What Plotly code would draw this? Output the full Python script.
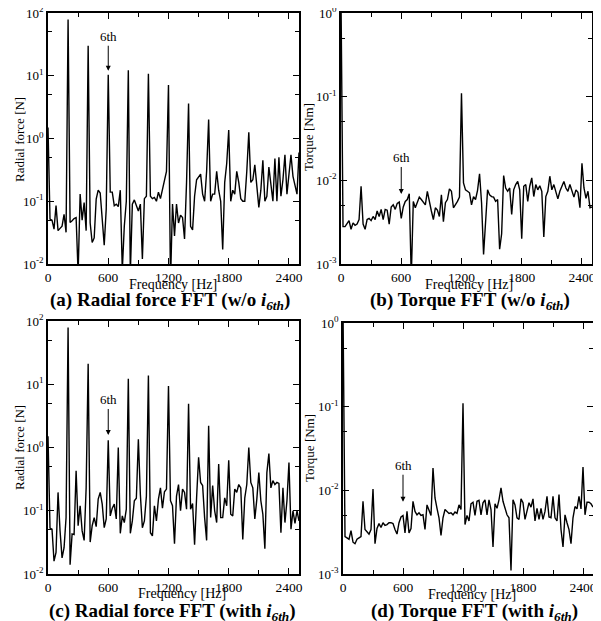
import plotly.graph_objects as go

# ---------------- data ----------------
freq = list(range(0, 2501, 20))  # Hz

radial_wo = [
    1.5, 0.052, 0.05, 0.036, 0.085, 0.034, 0.037, 0.04, 0.062, 0.032,
    79, 0.046, 0.049, 0.053, 0.055, 0.007, 0.13, 0.05, 0.095, 0.034,
    30, 0.045, 0.022, 0.026, 0.108, 0.15, 0.135, 0.058, 0.02, 0.075,
    10.4, 0.14, 0.14, 0.085, 0.09, 0.082, 0.15, 0.008, 0.04, 0.1,
    12.2, 0.007, 0.09, 0.105, 0.085, 0.07, 0.09, 0.012, 0.11, 0.12,
    10.8, 0.12, 0.11, 0.115, 0.1, 0.14, 0.11, 0.15, 0.2, 0.3,
    7.1, 0.005, 0.09, 0.028, 0.09, 0.045, 0.06, 0.055, 0.025, 0.2,
    3.6, 0.04, 0.035, 0.12, 0.22, 0.25, 0.27, 0.13, 0.1, 0.3,
    2.0, 0.1, 0.13, 0.13, 0.3, 0.15, 0.1, 0.017, 0.2, 0.4,
    1.37, 0.1, 0.15, 0.13, 0.3, 0.2, 0.11, 0.1, 0.1, 0.3,
    1.26, 0.2, 0.22, 0.38, 0.15, 0.08, 0.15, 0.45, 0.1, 0.12,
    0.35, 0.2, 0.1, 0.48, 0.1, 0.5, 0.12, 0.22, 0.55, 0.13,
    0.3, 0.55, 0.25, 0.18, 0.13, 0.6,
]

torque_wo = [
    1.5, 0.0028, 0.0028, 0.003, 0.0033, 0.0026, 0.0031, 0.0029, 0.003, 0.0034,
    0.0085, 0.003, 0.0026, 0.0034, 0.0035, 0.0033, 0.0037, 0.0034, 0.0043, 0.0037,
    0.0045, 0.0034, 0.0045, 0.0044, 0.003, 0.0048, 0.0051, 0.0045, 0.0053, 0.0055,
    0.0035, 0.0048, 0.0056, 0.0059, 0.0069, 0.0007, 0.0056, 0.0047, 0.0055, 0.0063,
    0.0059, 0.0055, 0.0051, 0.0074, 0.0054, 0.0043, 0.0034, 0.0047, 0.0044, 0.0037,
    0.0067, 0.0032, 0.0054, 0.0059, 0.0079, 0.0074, 0.0047, 0.0051, 0.0056, 0.0063,
    0.11, 0.0093, 0.0077, 0.0074, 0.0071, 0.0051, 0.0064, 0.0059, 0.0076, 0.012,
    0.0054, 0.0013, 0.0034, 0.0077, 0.0067, 0.0064, 0.0063, 0.0056, 0.0059, 0.0015,
    0.0023, 0.0114, 0.0081, 0.0074, 0.0081, 0.0039, 0.0077, 0.0089, 0.0097, 0.0077,
    0.002, 0.0085, 0.0089, 0.0056, 0.0085, 0.0107, 0.0064, 0.0089, 0.0077, 0.0086,
    0.0074, 0.0021, 0.0064, 0.0074, 0.0112, 0.0077, 0.0089, 0.0071, 0.006, 0.0074,
    0.0086, 0.0097, 0.0081, 0.0074, 0.0089, 0.0074, 0.0063, 0.0077, 0.0072, 0.0047,
    0.016, 0.0081, 0.0061, 0.0074, 0.0047, 0.0048,
]

radial_with = [
    1.5, 0.053, 0.051, 0.016, 0.022, 0.195, 0.048, 0.018, 0.026, 0.078,
    79, 0.014, 0.043, 0.042, 0.43, 0.058, 0.12, 0.048, 0.034, 0.23,
    21, 0.032, 0.058, 0.078, 0.056, 0.153, 0.195, 0.127, 0.054, 0.074,
    1.3, 0.083, 0.11, 0.127, 0.074, 1.0, 0.044, 0.083, 0.065, 0.106,
    12.2, 0.044, 0.069, 0.144, 0.158, 1.35, 0.18, 0.054, 0.069, 0.17,
    13.8, 0.045, 0.04, 0.12, 0.069, 0.153, 0.23, 0.11, 0.2, 0.22,
    9.4, 0.144, 0.12, 0.03, 0.17, 0.26, 0.1, 0.22, 0.195, 0.106,
    4.9, 0.106, 0.13, 0.029, 0.16, 0.7, 0.28, 0.25, 0.078, 0.034,
    2.2, 0.078, 0.25, 0.1, 0.065, 0.55, 0.078, 0.078, 0.16, 0.12,
    0.63, 0.088, 0.083, 0.22, 0.195, 0.26, 0.23, 0.035, 0.16, 0.26,
    1.0, 0.28, 0.23, 0.074, 0.153, 0.4, 0.144, 0.088, 0.025, 0.4,
    0.8, 0.23, 0.3, 0.26, 0.28, 0.27, 0.045, 0.23, 0.065, 0.144,
    0.58, 0.051, 0.1, 0.063, 0.1, 0.069,
]

torque_with = [
    1.5, 0.0028, 0.0027, 0.0026, 0.0033, 0.0024, 0.0023, 0.0026, 0.0027, 0.0028,
    0.0074, 0.0034, 0.0032, 0.003, 0.0034, 0.0104, 0.0023, 0.0035, 0.004, 0.0036,
    0.0041, 0.0038, 0.0039, 0.0041, 0.0041, 0.004, 0.0034, 0.003, 0.0041, 0.0048,
    0.005, 0.0031, 0.0056, 0.0031, 0.0035, 0.0074, 0.0056, 0.0051, 0.0054, 0.005,
    0.0051, 0.0034, 0.0067, 0.0056, 0.005, 0.0185, 0.0081, 0.0061, 0.0047, 0.0029,
    0.0047, 0.0059, 0.0056, 0.0053, 0.0054, 0.0051, 0.0055, 0.0053, 0.0067, 0.0059,
    0.11, 0.0039, 0.005, 0.0043, 0.0069, 0.0072, 0.005, 0.0074, 0.0076, 0.0051,
    0.0071, 0.0077, 0.0051, 0.0077, 0.0059, 0.0021, 0.0069, 0.0061, 0.0077, 0.0107,
    0.0074, 0.006, 0.0051, 0.0047, 0.0011, 0.0077, 0.0067, 0.0047, 0.0045, 0.0079,
    0.0071, 0.0045, 0.0056, 0.0071, 0.0063, 0.0079, 0.0043, 0.0061, 0.0045, 0.0061,
    0.0045, 0.0056, 0.0085, 0.0048, 0.0047, 0.0085, 0.0047, 0.0043, 0.0089, 0.0034,
    0.0021, 0.0051, 0.0041, 0.0034, 0.0023, 0.0047, 0.0064, 0.006, 0.0085, 0.006,
    0.019, 0.0051, 0.0072, 0.0072, 0.0069, 0.0063,
]

x_ticks = [0, 600, 1200, 1800, 2400]
x_minor = [300, 900, 1500, 2100]
radial_ticks = [0.01, 0.1, 1, 10, 100]
radial_ticktext = ["10<sup>-2</sup>", "10<sup>-1</sup>", "10<sup>0</sup>", "10<sup>1</sup>", "10<sup>2</sup>"]
radial_minor = [0.05, 0.5, 5, 50]
torque_ticks = [0.001, 0.01, 0.1, 1]
torque_ticktext = ["10<sup>-3</sup>", "10<sup>-2</sup>", "10<sup>-1</sup>", "10<sup>0</sup>"]
torque_minor = [0.005, 0.05, 0.5]

captions = [
    "(a) Radial force FFT (w/o <i>i</i><sub><i>6th</i></sub>)",
    "(b) Torque FFT (w/o <i>i</i><sub><i>6th</i></sub>)",
    "(c) Radial force FFT (with <i>i</i><sub><i>6th</i></sub>)",
    "(d) Torque FFT (with <i>i</i><sub><i>6th</i></sub>)",
]
y_titles = ["Radial force [N]", "Torque [Nm]", "Radial force [N]", "Torque [Nm]"]
x_title = "Frequency [Hz]"
harmonic_label = "6th"

# ---------------- layout helpers ----------------
# The page body has an 8px margin, so the figure is sized to the visible
# window area and page-pixel positions are converted with that offset.
OFF = 8
W, H = 601 - OFF, 621 - OFF
FONT = "Liberation Serif, Times New Roman, serif"


def px(x):
    return (x - OFF) / W


def py(y):
    return 1 - (y - OFF) / H


series = [radial_wo, torque_wo, radial_with, torque_with]
# plot-area boxes in page pixels: (left, right, top, bottom)
boxes = [(48, 299, 13, 264), (341, 592, 13, 264), (48, 299, 321, 574), (343, 593, 323, 574)]
yranges = [[-2, 2], [-3, 0], [-2, 2], [-3, 0]]
ytv = [radial_ticks, torque_ticks, radial_ticks, torque_ticks]
ytt = [radial_ticktext, torque_ticktext, radial_ticktext, torque_ticktext]
ymn = [radial_minor, torque_minor, radial_minor, torque_minor]
# label/caption placements (page pixels)
xtitle_pos = [(173, 284), (469, 284), (182, 593), (472, 594)]
ytitle_pos = [(19, 140), (308, 137), (19, 448), (309, 448)]
caption_pos = [(170, 301), (470, 301), (172, 612), (474, 612)]
# 6th arrow: (tip log10 value, text offset in px)
arrow_tip = [(1.08, -34), (-2.163, -36), (0.198, -35), (-2.136, -36)]

fig = go.Figure()
annotations = []
layout = dict(
    width=W, height=H,
    margin=dict(l=0, r=0, t=0, b=0, autoexpand=False),
    paper_bgcolor="white", plot_bgcolor="white",
    showlegend=False,
    font=dict(family=FONT, size=13, color="black"),
)

for i in range(4):
    n = "" if i == 0 else str(i + 1)
    xa, ya = "x" + n, "y" + n
    l, r, t, b = boxes[i]
    fig.add_trace(go.Scatter(
        x=freq, y=series[i], mode="lines",
        line=dict(color="black", width=1.4),
        xaxis=xa, yaxis=ya, hoverinfo="x+y",
    ))
    layout["xaxis" + n] = dict(
        domain=[px(l), px(r)], anchor=ya, range=[0, 2500], automargin=False,
        tickvals=x_ticks, ticktext=[str(v) for v in x_ticks], ticklabeloverflow="allow",
        ticks="inside", ticklen=6, tickwidth=1, tickcolor="black",
        minor=dict(tickvals=x_minor, ticks="inside", ticklen=4, tickwidth=1, tickcolor="black"),
        showline=True, linecolor="black", linewidth=1.5, mirror="allticks",
        showgrid=False, zeroline=False,
        tickfont=dict(family=FONT, size=13.5, color="black"),
    )
    layout["yaxis" + n] = dict(
        domain=[py(b), py(t)], anchor=xa, type="log", range=yranges[i], automargin=False,
        tickvals=ytv[i], ticktext=ytt[i], ticklabeloverflow="allow",
        ticks="inside", ticklen=6, tickwidth=1, tickcolor="black",
        minor=dict(tickvals=ymn[i], ticks="inside", ticklen=4, tickwidth=1, tickcolor="black"),
        showline=True, linecolor="black", linewidth=1.5, mirror="allticks",
        showgrid=False, zeroline=False,
        tickfont=dict(family=FONT, size=13, color="black"),
    )
    # axis titles
    annotations.append(dict(
        text=x_title, x=px(xtitle_pos[i][0]), y=py(xtitle_pos[i][1]),
        xref="paper", yref="paper", showarrow=False,
        xanchor="center", yanchor="middle",
        font=dict(family=FONT, size=14, color="black"),
    ))
    annotations.append(dict(
        text=y_titles[i], x=px(ytitle_pos[i][0]), y=py(ytitle_pos[i][1]),
        xref="paper", yref="paper", showarrow=False, textangle=-90,
        xanchor="center", yanchor="middle",
        font=dict(family=FONT, size=13, color="black"),
    ))
    # captions
    annotations.append(dict(
        text="<b>" + captions[i] + "</b>", x=px(caption_pos[i][0]), y=py(caption_pos[i][1]),
        xref="paper", yref="paper", showarrow=False,
        xanchor="center", yanchor="middle",
        font=dict(family=FONT, size=19, color="black"),
    ))
    # 6th harmonic marker
    annotations.append(dict(
        text=harmonic_label, x=600, y=arrow_tip[i][0], xref=xa, yref=ya,
        showarrow=True, arrowhead=2, arrowsize=1, arrowwidth=1, arrowcolor="black",
        ax=0, ay=arrow_tip[i][1], standoff=0,
        font=dict(family=FONT, size=13, color="black"),
    ))

layout["annotations"] = annotations
fig.update_layout(**layout)
fig.write_html("out.html")
